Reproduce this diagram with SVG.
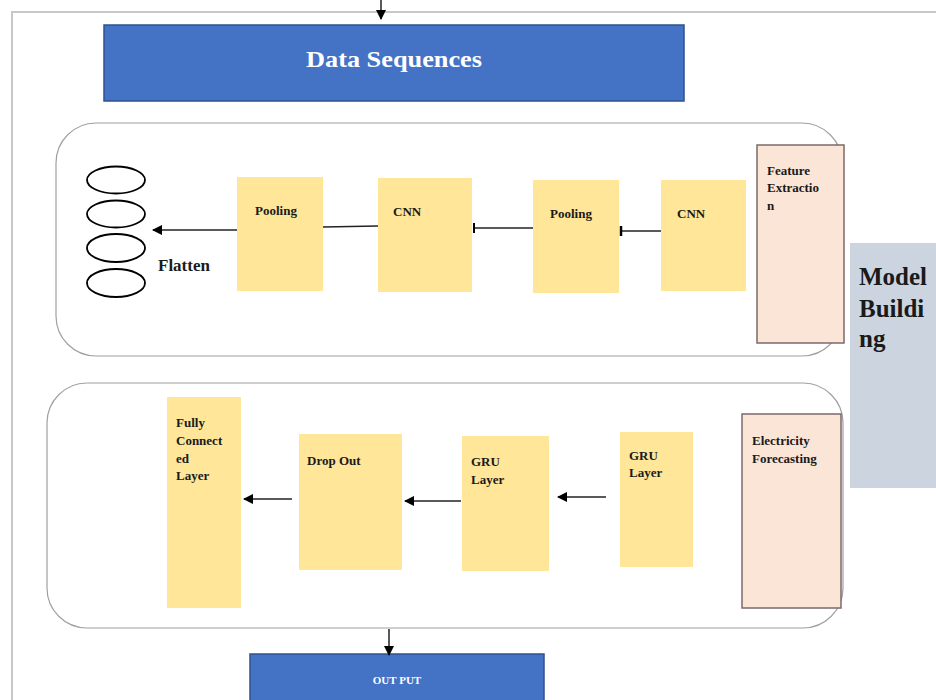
<svg xmlns="http://www.w3.org/2000/svg" width="936" height="700" viewBox="0 0 936 700">
<defs>
<style>
.frame{fill:none;stroke:#c8c8c8;stroke-width:2}
.blue{fill:#4472c4;stroke:#2f528f;stroke-width:1.5}
.group{fill:#ffffff;stroke:#a0a0a0;stroke-width:1.2}
.y{fill:#ffe699;stroke:none}
.peach{fill:#fbe5d6;stroke:#7a6a6a;stroke-width:1.5}
.gray{fill:#ccd5df;stroke:none}
.t{font-family:"Liberation Serif","Times New Roman",serif;font-weight:bold;fill:#1a1a1a}
.w{font-family:"Liberation Serif","Times New Roman",serif;font-weight:bold;fill:#ffffff}
.c{stroke:#222;stroke-width:1.5;fill:none}
.e{fill:none;stroke:#000;stroke-width:1.8}
</style>
<marker id="ah" viewBox="0 0 10 10" refX="9" refY="5" markerWidth="7" markerHeight="7" orient="auto">
<path d="M0,0 L10,5 L0,10 z" fill="#000"/>
</marker>
</defs>
<rect width="936" height="700" fill="#ffffff"/>
<path class="frame" d="M12,700 V12 H936"/>

<g id="data-sequences">
<rect class="blue" x="104" y="25" width="580" height="76"/>
<text class="w" x="306" y="67" font-size="24" textLength="176" lengthAdjust="spacingAndGlyphs">Data Sequences</text>
</g>

<g id="feature-group">
<rect class="group" x="56" y="123" width="786" height="233" rx="40" ry="40"/>
</g>
<g id="forecast-group">
<rect class="group" x="47" y="383" width="796" height="245" rx="40" ry="40"/>
</g>

<g id="model-building">
<rect class="gray" x="850" y="243" width="86" height="245"/>
<text class="t" font-size="25" x="859"><tspan x="859" y="285">Model</tspan><tspan x="859" y="317">Buildi</tspan><tspan x="859" y="347">ng</tspan></text>
</g>

<g id="feature-extraction">
<rect class="peach" x="757" y="145" width="87" height="198"/>
<text class="t" font-size="13"><tspan x="767" y="175">Feature</tspan><tspan x="767" y="192">Extractio</tspan><tspan x="767" y="210">n</tspan></text>
</g>

<g id="pooling1">
<rect class="y" x="237" y="177" width="86" height="114"/>
<text class="t" font-size="13" x="255" y="215">Pooling</text>
</g>
<g id="cnn1">
<rect class="y" x="378" y="178" width="94" height="114"/>
<text class="t" font-size="13" x="393" y="216">CNN</text>
</g>
<g id="pooling2">
<rect class="y" x="533" y="180" width="86" height="113"/>
<text class="t" font-size="13" x="550" y="218">Pooling</text>
</g>
<g id="cnn2">
<rect class="y" x="661" y="180" width="85" height="111"/>
<text class="t" font-size="13" x="677" y="218">CNN</text>
</g>

<g id="flatten">
<ellipse class="e" cx="116" cy="180" rx="29" ry="13.5"/>
<ellipse class="e" cx="116" cy="214" rx="29" ry="13.5"/>
<ellipse class="e" cx="116" cy="248" rx="29" ry="14"/>
<ellipse class="e" cx="116" cy="283" rx="29" ry="14"/>
<text class="t" font-size="17" x="158" y="271">Flatten</text>
</g>

<g id="fully-connected">
<rect class="y" x="167" y="397" width="74" height="211"/>
<text class="t" font-size="13"><tspan x="176" y="427">Fully</tspan><tspan x="176" y="445">Connect</tspan><tspan x="176" y="463">ed</tspan><tspan x="176" y="480">Layer</tspan></text>
</g>
<g id="dropout">
<rect class="y" x="299" y="434" width="103" height="136"/>
<text class="t" font-size="13" x="307" y="465">Drop Out</text>
</g>
<g id="gru1">
<rect class="y" x="462" y="436" width="87" height="135"/>
<text class="t" font-size="13"><tspan x="471" y="466">GRU</tspan><tspan x="471" y="484">Layer</tspan></text>
</g>
<g id="gru2">
<rect class="y" x="620" y="432" width="73" height="135"/>
<text class="t" font-size="13"><tspan x="629" y="460">GRU</tspan><tspan x="629" y="477">Layer</tspan></text>
</g>
<g id="electricity-forecasting">
<rect class="peach" x="742" y="414" width="99" height="194"/>
<text class="t" font-size="13"><tspan x="752" y="445">Electricity</tspan><tspan x="752" y="463">Forecasting</tspan></text>
</g>

<g id="output">
<rect class="blue" x="250" y="654" width="294" height="50"/>
<text class="w" font-size="11" x="397" y="684" text-anchor="middle">OUT PUT</text>
</g>

<g id="connectors">
<line class="c" x1="381" y1="0" x2="381" y2="19" marker-end="url(#ah)"/>
<line class="c" x1="661" y1="231" x2="621" y2="231"/>
<line x1="621" y1="226" x2="621" y2="236" stroke="#000" stroke-width="2.5"/>
<line class="c" x1="533" y1="228" x2="474" y2="228"/>
<line x1="474" y1="223" x2="474" y2="233" stroke="#000" stroke-width="2"/>
<line class="c" x1="378" y1="226" x2="323" y2="227"/>
<line class="c" x1="237" y1="230" x2="153" y2="230" marker-end="url(#ah)"/>
<line class="c" x1="606" y1="497" x2="558" y2="497" marker-end="url(#ah)"/>
<line class="c" x1="461" y1="501" x2="405" y2="501" marker-end="url(#ah)"/>
<line class="c" x1="292" y1="499" x2="244" y2="499" marker-end="url(#ah)"/>
<line class="c" x1="389" y1="629" x2="389" y2="655" marker-end="url(#ah)"/>
</g>
</svg>
